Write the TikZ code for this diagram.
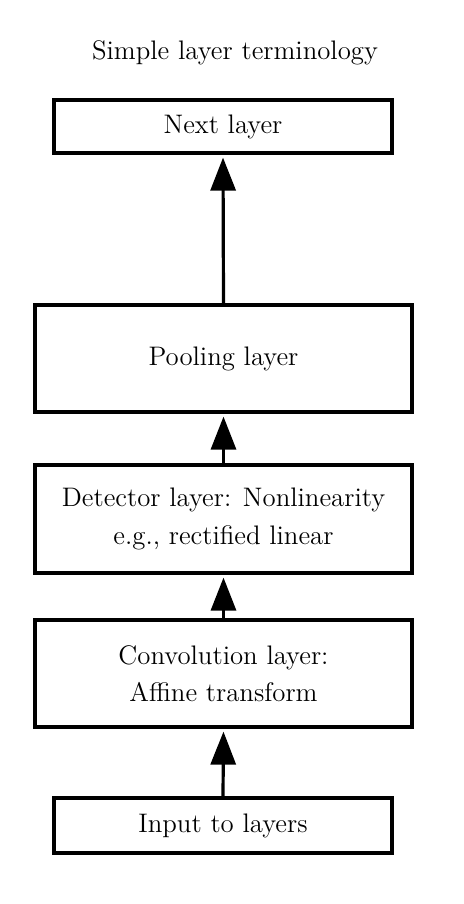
\documentclass[tikz,border=0pt]{standalone}
\usetikzlibrary{arrows.meta}
\begin{document}
\begin{tikzpicture}[x=0.5pt,y=-0.5pt,
  every node/.style={font=\fontsize{13.4}{18.8}\selectfont},
  layerbox/.style={draw, line width=1.6pt, align=center, inner sep=0pt},
  uparrow/.style={line width=1.6pt, -{Triangle[length=16.5pt,width=12.5pt]}, shorten >=1.5pt}]
\useasboundingbox (0,0) rectangle (463,904);
\node (title) at (235,53) {Simple layer terminology};
\node[layerbox, minimum width=169pt, minimum height=26.5pt] (next) at (223,126.5) {Next layer};
\node[layerbox, minimum width=188.5pt, minimum height=53.5pt] (pool) at (223.5,358.5) {Pooling layer};
\node[layerbox, minimum width=188.5pt, minimum height=54pt] (det) at (223.5,519) {Detector layer: Nonlinearity\\e.g., rectified linear};
\node[layerbox, minimum width=188.5pt, minimum height=53.5pt] (conv) at (223.5,673.5) {Convolution layer:\\Affine transform};
\node[layerbox, minimum width=169pt, minimum height=27.5pt] (input) at (223,825.5) {Input to layers};
\draw[uparrow] (input.north) -- (conv.south);
\draw[uparrow] (conv.north) -- (det.south);
\draw[uparrow] (det.north) -- (pool.south);
\draw[uparrow] (pool.north) -- (next.south);
\end{tikzpicture}
\end{document}
